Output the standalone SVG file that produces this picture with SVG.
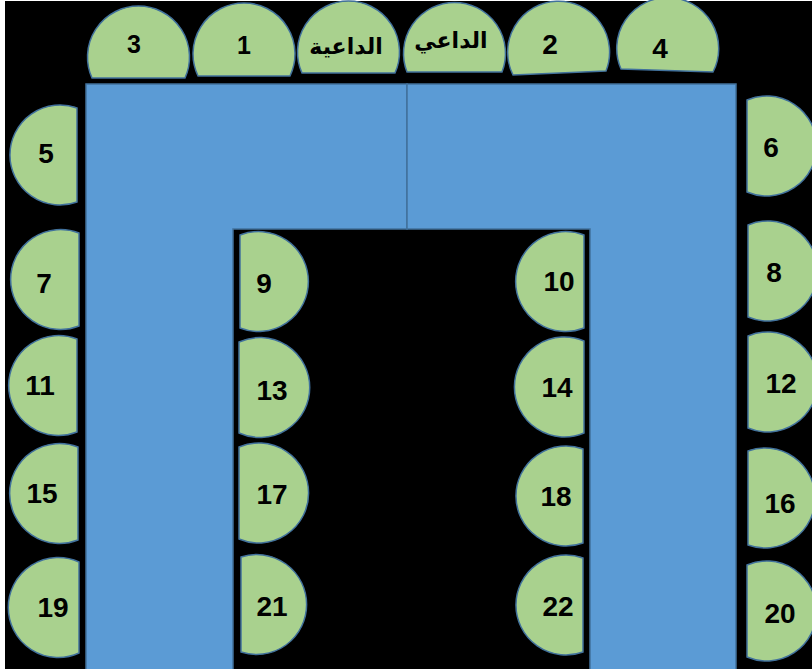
<svg xmlns="http://www.w3.org/2000/svg" width="812" height="669" viewBox="0 0 812 669">
<style>
.tbl{fill:#5B9BD5;stroke:#41719C;stroke-width:1.5}
.seat{fill:#A9D18E;stroke:#41719C;stroke-width:1.5}
.num{font-family:"Liberation Sans",Arial,sans-serif;font-weight:bold;font-size:28px;fill:#000;text-anchor:middle}
.sm{font-size:25px}
.ar{font-family:"DejaVu Sans","Noto Sans",sans-serif;font-weight:bold;font-size:22px;fill:#000;text-anchor:middle}
</style>
<rect x="0" y="0" width="812" height="669" fill="#ffffff"/>
<rect x="5" y="1" width="807" height="668" fill="#000000"/>
<g id="connectors"></g>
<g id="table-left"><path class="tbl" d="M86,84 H407 V229 H233 V670 H86 Z"/></g>
<g id="table-right"><path class="tbl" d="M407,84 H736 V670 H590 V229 H407 Z"/></g>

<g id="seat-3"><path class="seat" d="M92,78 A51,51 0 1 1 185,78 Z"/><text class="num sm" x="134" y="53">3</text></g>
<g id="seat-1"><path class="seat" d="M198,76 A51,51 0 1 1 290,76 Z"/><text class="num sm" x="244" y="54">1</text></g>
<g id="seat-daiya"><path class="seat" d="M302,73 A51,51 0 1 1 395,73 Z"/><text class="ar" x="346" y="54">الداعية</text></g>
<g id="seat-dai"><path class="seat" d="M407,72 A51,51 0 1 1 502,72 Z"/><text class="ar" x="451" y="48">الداعي</text></g>
<g id="seat-2"><path class="seat" d="M513,75 A51,51 0 1 1 606,71 Z"/><text class="num" x="550" y="54">2</text></g>
<g id="seat-4"><path class="seat" d="M621,69 A51,51 0 1 1 713,72 Z"/><text class="num" x="660" y="58">4</text></g>

<g id="seat-5"><path class="seat" d="M77,108 A50,50 0 1 0 77,202 Z"/><text class="num" x="46" y="163">5</text></g>
<g id="seat-7"><path class="seat" d="M79,233 A50,50 0 1 0 79,326 Z"/><text class="num" x="44" y="293">7</text></g>
<g id="seat-11"><path class="seat" d="M77,339 A50,50 0 1 0 77,432 Z"/><text class="num" x="40" y="395">11</text></g>
<g id="seat-15"><path class="seat" d="M78,447 A50,50 0 1 0 78,540 Z"/><text class="num" x="42" y="503">15</text></g>
<g id="seat-19"><path class="seat" d="M79,562 A50,50 0 1 0 79,653 Z"/><text class="num" x="53" y="617">19</text></g>

<g id="seat-9"><path class="seat" d="M240,235 A50,50 0 1 1 240,328 Z"/><text class="num" x="264" y="293">9</text></g>
<g id="seat-13"><path class="seat" d="M239,342 A50,50 0 1 1 239,433 Z"/><text class="num" x="272" y="400">13</text></g>
<g id="seat-17"><path class="seat" d="M239,447 A50,50 0 1 1 239,539 Z"/><text class="num" x="272" y="504">17</text></g>
<g id="seat-21"><path class="seat" d="M241,557 A50,50 0 1 1 241,652 Z"/><text class="num" x="272" y="616">21</text></g>

<g id="seat-10"><path class="seat" d="M584,235 A50,50 0 1 0 584,328 Z"/><text class="num" x="559" y="291">10</text></g>
<g id="seat-14"><path class="seat" d="M584,341 A50,50 0 1 0 584,433 Z"/><text class="num" x="557" y="397">14</text></g>
<g id="seat-18"><path class="seat" d="M583,449 A50,50 0 1 0 583,543 Z"/><text class="num" x="556" y="506">18</text></g>
<g id="seat-22"><path class="seat" d="M583,558 A50,50 0 1 0 583,652 Z"/><text class="num" x="558" y="616">22</text></g>

<g id="seat-6"><path class="seat" d="M747,100 A50,50 0 1 1 747,192 Z"/><text class="num" x="771" y="157">6</text></g>
<g id="seat-8"><path class="seat" d="M748,225 A50,50 0 1 1 748,317 Z"/><text class="num" x="774" y="282">8</text></g>
<g id="seat-12"><path class="seat" d="M748,336 A50,50 0 1 1 748,428 Z"/><text class="num" x="781" y="393">12</text></g>
<g id="seat-16"><path class="seat" d="M748,451 A50,50 0 1 1 748,545 Z"/><text class="num" x="780" y="513">16</text></g>
<g id="seat-20"><path class="seat" d="M747,565 A50,50 0 1 1 747,657 Z"/><text class="num" x="780" y="623">20</text></g>
</svg>
